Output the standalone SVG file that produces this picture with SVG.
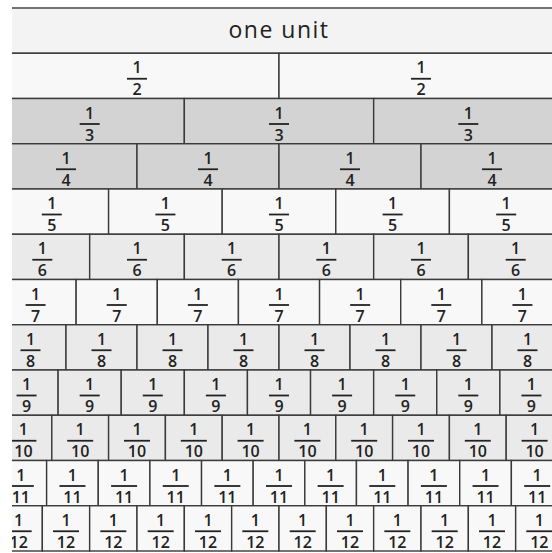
<svg xmlns="http://www.w3.org/2000/svg" width="552" height="553" viewBox="0 0 552 553">
<defs>
<clipPath id="clip"><rect x="12" y="0" width="540" height="553"/></clipPath>
</defs>
<style>
rect{stroke:#3a3a3a;stroke-width:1.4}
.w{fill:#f8f8f8}.l{fill:#eaeaea}.g{fill:#d3d3d3}.o{fill:#f3f3f3}
text{font-family:"Open Sans","DejaVu Sans",sans-serif;font-weight:600;font-size:16px;fill:#222;text-anchor:middle}
.u{font-weight:400;font-size:23px;letter-spacing:1.5px}
path{stroke:#222;stroke-width:1.8;fill:none}
</style>
<rect x="0" y="0" width="552" height="553" style="fill:#fff;stroke:none"/>
<g clip-path="url(#clip)">
<g id="unit" transform="translate(279,8)"><rect class="o" x="-284" width="568" height="45.25"/><text class="u" y="29.5">one unit</text></g>
<g id="row2">
<g id="f2_1" transform="translate(137,53.25)"><rect class="w" x="-142" width="284" height="45.25"/><text y="20">1</text><path d="M-10 25.5h20"/><text y="42">2</text></g>
<g id="f2_2" transform="translate(421,53.25)"><rect class="w" x="-142" width="284" height="45.25"/><text y="20">1</text><path d="M-10 25.5h20"/><text y="42">2</text></g>
</g>
<g id="row3">
<g id="f3_1" transform="translate(89.67,98.5)"><rect class="g" x="-94.67" width="189.33" height="45.25"/><text y="20">1</text><path d="M-10 25.5h20"/><text y="42">3</text></g>
<g id="f3_2" transform="translate(279,98.5)"><rect class="g" x="-94.67" width="189.33" height="45.25"/><text y="20">1</text><path d="M-10 25.5h20"/><text y="42">3</text></g>
<g id="f3_3" transform="translate(468.33,98.5)"><rect class="g" x="-94.67" width="189.33" height="45.25"/><text y="20">1</text><path d="M-10 25.5h20"/><text y="42">3</text></g>
</g>
<g id="row4">
<g id="f4_1" transform="translate(66,143.75)"><rect class="g" x="-71" width="142" height="45.25"/><text y="20">1</text><path d="M-10 25.5h20"/><text y="42">4</text></g>
<g id="f4_2" transform="translate(208,143.75)"><rect class="g" x="-71" width="142" height="45.25"/><text y="20">1</text><path d="M-10 25.5h20"/><text y="42">4</text></g>
<g id="f4_3" transform="translate(350,143.75)"><rect class="g" x="-71" width="142" height="45.25"/><text y="20">1</text><path d="M-10 25.5h20"/><text y="42">4</text></g>
<g id="f4_4" transform="translate(492,143.75)"><rect class="g" x="-71" width="142" height="45.25"/><text y="20">1</text><path d="M-10 25.5h20"/><text y="42">4</text></g>
</g>
<g id="row5">
<g id="f5_1" transform="translate(51.8,189)"><rect class="w" x="-56.8" width="113.6" height="45.25"/><text y="20">1</text><path d="M-10 25.5h20"/><text y="42">5</text></g>
<g id="f5_2" transform="translate(165.4,189)"><rect class="w" x="-56.8" width="113.6" height="45.25"/><text y="20">1</text><path d="M-10 25.5h20"/><text y="42">5</text></g>
<g id="f5_3" transform="translate(279,189)"><rect class="w" x="-56.8" width="113.6" height="45.25"/><text y="20">1</text><path d="M-10 25.5h20"/><text y="42">5</text></g>
<g id="f5_4" transform="translate(392.6,189)"><rect class="w" x="-56.8" width="113.6" height="45.25"/><text y="20">1</text><path d="M-10 25.5h20"/><text y="42">5</text></g>
<g id="f5_5" transform="translate(506.2,189)"><rect class="w" x="-56.8" width="113.6" height="45.25"/><text y="20">1</text><path d="M-10 25.5h20"/><text y="42">5</text></g>
</g>
<g id="row6">
<g id="f6_1" transform="translate(42.33,234.25)"><rect class="l" x="-47.33" width="94.67" height="45.25"/><text y="20">1</text><path d="M-10 25.5h20"/><text y="42">6</text></g>
<g id="f6_2" transform="translate(137,234.25)"><rect class="l" x="-47.33" width="94.67" height="45.25"/><text y="20">1</text><path d="M-10 25.5h20"/><text y="42">6</text></g>
<g id="f6_3" transform="translate(231.67,234.25)"><rect class="l" x="-47.33" width="94.67" height="45.25"/><text y="20">1</text><path d="M-10 25.5h20"/><text y="42">6</text></g>
<g id="f6_4" transform="translate(326.33,234.25)"><rect class="l" x="-47.33" width="94.67" height="45.25"/><text y="20">1</text><path d="M-10 25.5h20"/><text y="42">6</text></g>
<g id="f6_5" transform="translate(421,234.25)"><rect class="l" x="-47.33" width="94.67" height="45.25"/><text y="20">1</text><path d="M-10 25.5h20"/><text y="42">6</text></g>
<g id="f6_6" transform="translate(515.67,234.25)"><rect class="l" x="-47.33" width="94.67" height="45.25"/><text y="20">1</text><path d="M-10 25.5h20"/><text y="42">6</text></g>
</g>
<g id="row7">
<g id="f7_1" transform="translate(35.57,279.5)"><rect class="w" x="-40.57" width="81.14" height="45.25"/><text y="20">1</text><path d="M-10 25.5h20"/><text y="42">7</text></g>
<g id="f7_2" transform="translate(116.71,279.5)"><rect class="w" x="-40.57" width="81.14" height="45.25"/><text y="20">1</text><path d="M-10 25.5h20"/><text y="42">7</text></g>
<g id="f7_3" transform="translate(197.86,279.5)"><rect class="w" x="-40.57" width="81.14" height="45.25"/><text y="20">1</text><path d="M-10 25.5h20"/><text y="42">7</text></g>
<g id="f7_4" transform="translate(279,279.5)"><rect class="w" x="-40.57" width="81.14" height="45.25"/><text y="20">1</text><path d="M-10 25.5h20"/><text y="42">7</text></g>
<g id="f7_5" transform="translate(360.14,279.5)"><rect class="w" x="-40.57" width="81.14" height="45.25"/><text y="20">1</text><path d="M-10 25.5h20"/><text y="42">7</text></g>
<g id="f7_6" transform="translate(441.29,279.5)"><rect class="w" x="-40.57" width="81.14" height="45.25"/><text y="20">1</text><path d="M-10 25.5h20"/><text y="42">7</text></g>
<g id="f7_7" transform="translate(522.43,279.5)"><rect class="w" x="-40.57" width="81.14" height="45.25"/><text y="20">1</text><path d="M-10 25.5h20"/><text y="42">7</text></g>
</g>
<g id="row8">
<g id="f8_1" transform="translate(30.5,324.75)"><rect class="l" x="-35.5" width="71" height="45.25"/><text y="20">1</text><path d="M-10 25.5h20"/><text y="42">8</text></g>
<g id="f8_2" transform="translate(101.5,324.75)"><rect class="l" x="-35.5" width="71" height="45.25"/><text y="20">1</text><path d="M-10 25.5h20"/><text y="42">8</text></g>
<g id="f8_3" transform="translate(172.5,324.75)"><rect class="l" x="-35.5" width="71" height="45.25"/><text y="20">1</text><path d="M-10 25.5h20"/><text y="42">8</text></g>
<g id="f8_4" transform="translate(243.5,324.75)"><rect class="l" x="-35.5" width="71" height="45.25"/><text y="20">1</text><path d="M-10 25.5h20"/><text y="42">8</text></g>
<g id="f8_5" transform="translate(314.5,324.75)"><rect class="l" x="-35.5" width="71" height="45.25"/><text y="20">1</text><path d="M-10 25.5h20"/><text y="42">8</text></g>
<g id="f8_6" transform="translate(385.5,324.75)"><rect class="l" x="-35.5" width="71" height="45.25"/><text y="20">1</text><path d="M-10 25.5h20"/><text y="42">8</text></g>
<g id="f8_7" transform="translate(456.5,324.75)"><rect class="l" x="-35.5" width="71" height="45.25"/><text y="20">1</text><path d="M-10 25.5h20"/><text y="42">8</text></g>
<g id="f8_8" transform="translate(527.5,324.75)"><rect class="l" x="-35.5" width="71" height="45.25"/><text y="20">1</text><path d="M-10 25.5h20"/><text y="42">8</text></g>
</g>
<g id="row9">
<g id="f9_1" transform="translate(26.56,370)"><rect class="l" x="-31.56" width="63.11" height="45.25"/><text y="20">1</text><path d="M-10 25.5h20"/><text y="42">9</text></g>
<g id="f9_2" transform="translate(89.67,370)"><rect class="l" x="-31.56" width="63.11" height="45.25"/><text y="20">1</text><path d="M-10 25.5h20"/><text y="42">9</text></g>
<g id="f9_3" transform="translate(152.78,370)"><rect class="l" x="-31.56" width="63.11" height="45.25"/><text y="20">1</text><path d="M-10 25.5h20"/><text y="42">9</text></g>
<g id="f9_4" transform="translate(215.89,370)"><rect class="l" x="-31.56" width="63.11" height="45.25"/><text y="20">1</text><path d="M-10 25.5h20"/><text y="42">9</text></g>
<g id="f9_5" transform="translate(279,370)"><rect class="l" x="-31.56" width="63.11" height="45.25"/><text y="20">1</text><path d="M-10 25.5h20"/><text y="42">9</text></g>
<g id="f9_6" transform="translate(342.11,370)"><rect class="l" x="-31.56" width="63.11" height="45.25"/><text y="20">1</text><path d="M-10 25.5h20"/><text y="42">9</text></g>
<g id="f9_7" transform="translate(405.22,370)"><rect class="l" x="-31.56" width="63.11" height="45.25"/><text y="20">1</text><path d="M-10 25.5h20"/><text y="42">9</text></g>
<g id="f9_8" transform="translate(468.33,370)"><rect class="l" x="-31.56" width="63.11" height="45.25"/><text y="20">1</text><path d="M-10 25.5h20"/><text y="42">9</text></g>
<g id="f9_9" transform="translate(531.44,370)"><rect class="l" x="-31.56" width="63.11" height="45.25"/><text y="20">1</text><path d="M-10 25.5h20"/><text y="42">9</text></g>
</g>
<g id="row10">
<g id="f10_1" transform="translate(23.4,415.25)"><rect class="l" x="-28.4" width="56.8" height="45.25"/><text y="20">1</text><path d="M-13 25.5h26"/><text y="42">10</text></g>
<g id="f10_2" transform="translate(80.2,415.25)"><rect class="l" x="-28.4" width="56.8" height="45.25"/><text y="20">1</text><path d="M-13 25.5h26"/><text y="42">10</text></g>
<g id="f10_3" transform="translate(137,415.25)"><rect class="l" x="-28.4" width="56.8" height="45.25"/><text y="20">1</text><path d="M-13 25.5h26"/><text y="42">10</text></g>
<g id="f10_4" transform="translate(193.8,415.25)"><rect class="l" x="-28.4" width="56.8" height="45.25"/><text y="20">1</text><path d="M-13 25.5h26"/><text y="42">10</text></g>
<g id="f10_5" transform="translate(250.6,415.25)"><rect class="l" x="-28.4" width="56.8" height="45.25"/><text y="20">1</text><path d="M-13 25.5h26"/><text y="42">10</text></g>
<g id="f10_6" transform="translate(307.4,415.25)"><rect class="l" x="-28.4" width="56.8" height="45.25"/><text y="20">1</text><path d="M-13 25.5h26"/><text y="42">10</text></g>
<g id="f10_7" transform="translate(364.2,415.25)"><rect class="l" x="-28.4" width="56.8" height="45.25"/><text y="20">1</text><path d="M-13 25.5h26"/><text y="42">10</text></g>
<g id="f10_8" transform="translate(421,415.25)"><rect class="l" x="-28.4" width="56.8" height="45.25"/><text y="20">1</text><path d="M-13 25.5h26"/><text y="42">10</text></g>
<g id="f10_9" transform="translate(477.8,415.25)"><rect class="l" x="-28.4" width="56.8" height="45.25"/><text y="20">1</text><path d="M-13 25.5h26"/><text y="42">10</text></g>
<g id="f10_10" transform="translate(534.6,415.25)"><rect class="l" x="-28.4" width="56.8" height="45.25"/><text y="20">1</text><path d="M-13 25.5h26"/><text y="42">10</text></g>
</g>
<g id="row11">
<g id="f11_1" transform="translate(20.82,460.5)"><rect class="w" x="-25.82" width="51.64" height="45.25"/><text y="20">1</text><path d="M-13 25.5h26"/><text y="42">11</text></g>
<g id="f11_2" transform="translate(72.45,460.5)"><rect class="w" x="-25.82" width="51.64" height="45.25"/><text y="20">1</text><path d="M-13 25.5h26"/><text y="42">11</text></g>
<g id="f11_3" transform="translate(124.09,460.5)"><rect class="w" x="-25.82" width="51.64" height="45.25"/><text y="20">1</text><path d="M-13 25.5h26"/><text y="42">11</text></g>
<g id="f11_4" transform="translate(175.73,460.5)"><rect class="w" x="-25.82" width="51.64" height="45.25"/><text y="20">1</text><path d="M-13 25.5h26"/><text y="42">11</text></g>
<g id="f11_5" transform="translate(227.36,460.5)"><rect class="w" x="-25.82" width="51.64" height="45.25"/><text y="20">1</text><path d="M-13 25.5h26"/><text y="42">11</text></g>
<g id="f11_6" transform="translate(279,460.5)"><rect class="w" x="-25.82" width="51.64" height="45.25"/><text y="20">1</text><path d="M-13 25.5h26"/><text y="42">11</text></g>
<g id="f11_7" transform="translate(330.64,460.5)"><rect class="w" x="-25.82" width="51.64" height="45.25"/><text y="20">1</text><path d="M-13 25.5h26"/><text y="42">11</text></g>
<g id="f11_8" transform="translate(382.27,460.5)"><rect class="w" x="-25.82" width="51.64" height="45.25"/><text y="20">1</text><path d="M-13 25.5h26"/><text y="42">11</text></g>
<g id="f11_9" transform="translate(433.91,460.5)"><rect class="w" x="-25.82" width="51.64" height="45.25"/><text y="20">1</text><path d="M-13 25.5h26"/><text y="42">11</text></g>
<g id="f11_10" transform="translate(485.55,460.5)"><rect class="w" x="-25.82" width="51.64" height="45.25"/><text y="20">1</text><path d="M-13 25.5h26"/><text y="42">11</text></g>
<g id="f11_11" transform="translate(537.18,460.5)"><rect class="w" x="-25.82" width="51.64" height="45.25"/><text y="20">1</text><path d="M-13 25.5h26"/><text y="42">11</text></g>
</g>
<g id="row12">
<g id="f12_1" transform="translate(18.67,505.75)"><rect class="w" x="-23.67" width="47.33" height="45.25"/><text y="20">1</text><path d="M-13 25.5h26"/><text y="42">12</text></g>
<g id="f12_2" transform="translate(66,505.75)"><rect class="w" x="-23.67" width="47.33" height="45.25"/><text y="20">1</text><path d="M-13 25.5h26"/><text y="42">12</text></g>
<g id="f12_3" transform="translate(113.33,505.75)"><rect class="w" x="-23.67" width="47.33" height="45.25"/><text y="20">1</text><path d="M-13 25.5h26"/><text y="42">12</text></g>
<g id="f12_4" transform="translate(160.67,505.75)"><rect class="w" x="-23.67" width="47.33" height="45.25"/><text y="20">1</text><path d="M-13 25.5h26"/><text y="42">12</text></g>
<g id="f12_5" transform="translate(208,505.75)"><rect class="w" x="-23.67" width="47.33" height="45.25"/><text y="20">1</text><path d="M-13 25.5h26"/><text y="42">12</text></g>
<g id="f12_6" transform="translate(255.33,505.75)"><rect class="w" x="-23.67" width="47.33" height="45.25"/><text y="20">1</text><path d="M-13 25.5h26"/><text y="42">12</text></g>
<g id="f12_7" transform="translate(302.67,505.75)"><rect class="w" x="-23.67" width="47.33" height="45.25"/><text y="20">1</text><path d="M-13 25.5h26"/><text y="42">12</text></g>
<g id="f12_8" transform="translate(350,505.75)"><rect class="w" x="-23.67" width="47.33" height="45.25"/><text y="20">1</text><path d="M-13 25.5h26"/><text y="42">12</text></g>
<g id="f12_9" transform="translate(397.33,505.75)"><rect class="w" x="-23.67" width="47.33" height="45.25"/><text y="20">1</text><path d="M-13 25.5h26"/><text y="42">12</text></g>
<g id="f12_10" transform="translate(444.67,505.75)"><rect class="w" x="-23.67" width="47.33" height="45.25"/><text y="20">1</text><path d="M-13 25.5h26"/><text y="42">12</text></g>
<g id="f12_11" transform="translate(492,505.75)"><rect class="w" x="-23.67" width="47.33" height="45.25"/><text y="20">1</text><path d="M-13 25.5h26"/><text y="42">12</text></g>
<g id="f12_12" transform="translate(539.33,505.75)"><rect class="w" x="-23.67" width="47.33" height="45.25"/><text y="20">1</text><path d="M-13 25.5h26"/><text y="42">12</text></g>
</g>
</g>
</svg>
